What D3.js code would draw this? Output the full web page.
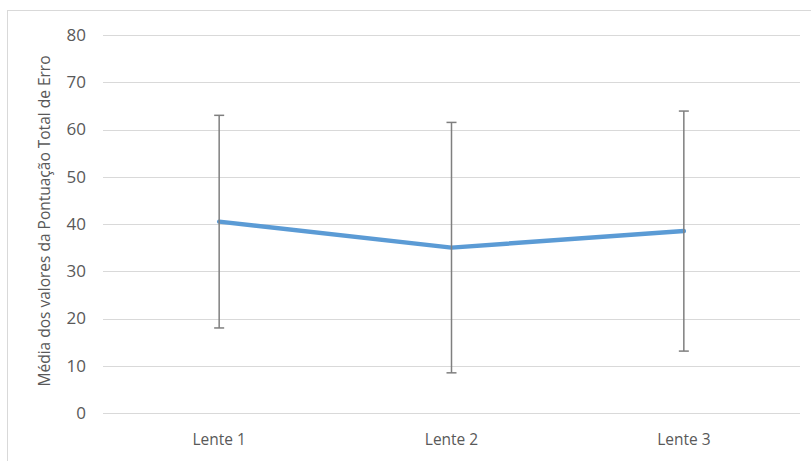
<!DOCTYPE html>
<html>
<head>
<meta charset="utf-8">
<script src="https://cdn.jsdelivr.net/npm/d3@7"></script>
<style>
  html, body { margin: 0; padding: 0; background: #fff; }
  svg { display: block; }
  text { font-family: "Open Sans", "Liberation Sans", sans-serif; fill: #595959; }
</style>
</head>
<body>
<svg id="chart" width="811" height="461"></svg>
<script>
// Mean total error score per lens, with standard deviation error bars
const categories = ["Lente 1", "Lente 2", "Lente 3"];
const means = [40.5, 35.0, 38.5];
const errors = [22.5, 26.5, 25.4];
const yTicks = [0, 10, 20, 30, 40, 50, 60, 70, 80];
const yTitle = "Média dos valores da Pontuação Total de Erro";

const svg = d3.select("#chart");
const margin = { left: 103, right: 11, top: 35, bottom: 48 };
const W = 811, H = 461;

// Chart frame
svg.append("rect")
  .attr("x", 7.5).attr("y", 10.5)
  .attr("width", 820).attr("height", 470)
  .attr("fill", "#fff").attr("stroke", "#d9d9d9").attr("stroke-width", 1);

const x = d3.scaleBand().domain(categories)
  .range([margin.left, W - margin.right]).padding(0);
const y = d3.scaleLinear().domain([0, 80])
  .range([H - margin.bottom, margin.top]);

// Gridlines
svg.append("g").selectAll("line").data(yTicks).join("line")
  .attr("x1", margin.left).attr("x2", W - margin.right)
  .attr("y1", d => Math.round(y(d)) + 0.5).attr("y2", d => Math.round(y(d)) + 0.5)
  .attr("stroke", "#d9d9d9").attr("stroke-width", 1);

// Y axis labels
const yAxis = d3.axisLeft(y).tickValues(yTicks).tickSize(0).tickPadding(0);
const gy = svg.append("g").attr("transform", `translate(${margin.left - 17},0)`).call(yAxis);
gy.select(".domain").remove();
gy.selectAll("text").style("font-size", "17px").attr("fill", "#595959")
  .style("font-family", '"Open Sans", "Liberation Sans", sans-serif');

// X axis labels
const xAxis = d3.axisBottom(x).tickSize(0).tickPadding(0);
const gx = svg.append("g").attr("transform", `translate(0,${H - margin.bottom + 21})`).call(xAxis);
gx.select(".domain").remove();
gx.selectAll("text").style("font-size", "15.5px").attr("fill", "#595959")
  .style("font-family", '"Open Sans", "Liberation Sans", sans-serif');

// Y axis title
svg.append("text")
  .attr("transform", `translate(50,${(y(0) + y(80)) / 2 - 3}) rotate(-90)`)
  .attr("text-anchor", "middle")
  .style("font-size", "15.5px")
  .text(yTitle);

const cx = d => x(d) + x.bandwidth() / 2;
const rows = categories.map((c, i) => ({ c, m: means[i], e: errors[i] }));

// Mean line
svg.append("path")
  .datum(rows)
  .attr("fill", "none")
  .attr("stroke", "#5b9bd5")
  .attr("stroke-width", 4.5)
  .attr("stroke-linejoin", "round")
  .attr("stroke-linecap", "round")
  .attr("d", d3.line().x(d => cx(d.c)).y(d => y(d.m)));

// Error bars
const eb = svg.append("g").attr("stroke", "#7f7f7f").attr("stroke-width", 1.5);
eb.selectAll(".v").data(rows).join("line")
  .attr("x1", d => cx(d.c)).attr("x2", d => cx(d.c))
  .attr("y1", d => y(d.m + d.e)).attr("y2", d => y(d.m - d.e));
eb.selectAll(".t").data(rows).join("line")
  .attr("x1", d => cx(d.c) - 5).attr("x2", d => cx(d.c) + 5)
  .attr("y1", d => y(d.m + d.e)).attr("y2", d => y(d.m + d.e));
eb.selectAll(".b").data(rows).join("line")
  .attr("x1", d => cx(d.c) - 5).attr("x2", d => cx(d.c) + 5)
  .attr("y1", d => y(d.m - d.e)).attr("y2", d => y(d.m - d.e));
</script>
</body>
</html>
